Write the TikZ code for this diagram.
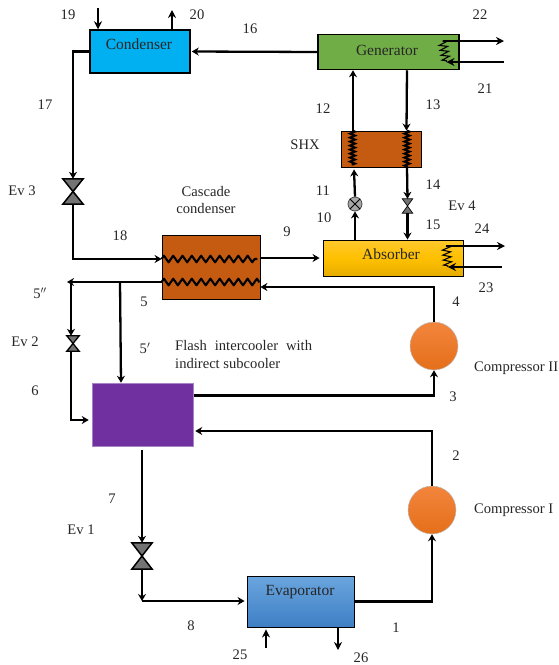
\documentclass[tikz,border=0pt]{standalone}
\usepackage{fontspec}
\setmainfont{Liberation Serif}
\usetikzlibrary{arrows.meta,decorations.pathmorphing,shapes.misc}
\definecolor{condc}{HTML}{00B0F0}
\definecolor{genc}{HTML}{70AD47}
\definecolor{shxc}{HTML}{C55A11}
\definecolor{purp}{HTML}{7030A0}
\definecolor{txtc}{HTML}{262626}
\definecolor{evt}{HTML}{6AA5DE}
\definecolor{evb}{HTML}{3E7FC4}
\definecolor{abt}{HTML}{FFC92E}
\definecolor{abm}{HTML}{FFC000}
\definecolor{abb}{HTML}{E6AD00}
\definecolor{compt}{HTML}{F2853D}
\definecolor{compm}{HTML}{F47F2B}
\definecolor{compb}{HTML}{E56F1A}
\tikzset{
  lbl/.style={text=txtc,font=\fontsize{14.6}{16}\selectfont,inner sep=0pt},
  blbl/.style={text=txtc,font=\fontsize{15.5}{16}\selectfont,inner sep=0pt},
  box/.style={draw=black,line width=1.5pt,inner sep=0pt},
  flow/.style={draw=black,line width=2.3pt,-{Stealth[length=7pt,width=8pt]}},
  thin flow/.style={draw=black,line width=1.2pt,-{Stealth[length=8pt,width=8pt]}},
  coilz/.style={draw=black,line width=2.1pt,line join=round,decorate,decoration={zigzag,segment length=9.3pt,amplitude=3.3pt}},
  coilv/.style={draw=black,line width=2pt,decorate,decoration={zigzag,segment length=4pt,amplitude=2.5pt}},
  coilh/.style={draw=black,line width=1.1pt,decorate,decoration={zigzag,segment length=5pt,amplitude=4pt}},
  valve/.style={inner sep=0pt,minimum width=#1},
  comp/.style={circle,draw=black!25,line width=.5pt,minimum size=48pt,inner sep=0pt,top color=compt,middle color=compm,bottom color=compb},
}
\begin{document}
\begin{tikzpicture}[x=1pt,y=-1pt]
\useasboundingbox (0,0) rectangle (558,665);
% boxes
\node[box,fill=condc,minimum width=100pt,minimum height=43pt] (cond) at (140,51.5) {};
\node[blbl] (condt) at (139,44) {Condenser};
\node[box,fill=genc,minimum width=141pt,minimum height=35pt] (gen) at (388.5,52) {};
\node[blbl] (gent) at (387,50) {Generator};
\node[box,fill=shxc,line width=.8pt,minimum width=80pt,minimum height=36pt] (shx) at (381,149) {};
\node[box,top color=abt,bottom color=abb,middle color=abm,line width=.9pt,minimum width=140pt,minimum height=36pt] (abs) at (393,258) {};
\node[blbl] (abst) at (391,254) {Absorber};
\node[box,fill=shxc,line width=.8pt,minimum width=98pt,minimum height=64pt] (casc) at (211,267) {};
\node[box,draw=purp!60,fill=purp,line width=.5pt,minimum width=101pt,minimum height=63pt] (flash) at (142.5,414.5) {};
\node[box,top color=evt,bottom color=evb,line width=.9pt,minimum width=107pt,minimum height=51pt] (evap) at (300.5,601.5) {};
\node[blbl] (evapt) at (300,592) {Evaporator};
\node[comp] (c2) at (434,346) {};
\node[comp] (c1) at (432,510) {};
% valves
\node[valve=20pt,minimum height=25pt] (ev3) at (73,191.5) {};
\node[valve=20pt,minimum height=26pt] (ev1) at (142,556) {};
\node[valve=12pt,minimum height=15pt] (ev2) at (73,343.5) {};
\node[valve=10pt,minimum height=14pt] (ev4) at (407.5,206) {};
\foreach \v/\w in {ev3/1.5pt,ev1/1.5pt,ev2/1.3pt,ev4/.7pt}
  \draw[draw=black,fill=black!55,line width=\w,line join=miter] (\v.north west)--(\v.north east)--(\v.south west)--(\v.south east)--cycle;
\node[circle,draw=black!70,fill=black!35,line width=.8pt,minimum size=14pt,inner sep=0pt] (pump) at (355,204) {};
\draw[black,line width=.8pt] (pump.45)--(pump.225) (pump.135)--(pump.315);
% split points
\coordinate (j5) at (120,282);
\coordinate (j5b) at (71,282);
\coordinate (t5) at (67,282);
\coordinate (ev1j) at (142,601);
% coils
\draw[coilz] ([yshift=8pt]casc.west) -- ([xshift=-3pt,yshift=8pt]casc.east);
\draw[coilz] ([yshift=-15pt]casc.west) -- ([xshift=-1pt,yshift=-15pt]casc.east);
\draw[coilv] ([xshift=-28.5pt]shx.north) -- ([xshift=-28.5pt,yshift=2pt]shx.south);
\draw[coilv] ([xshift=26pt]shx.north) -- ([xshift=26pt]shx.south);
\coordinate (gout) at ([xshift=54pt,yshift=11pt]gen.center);
\coordinate (gin) at ([xshift=58pt,yshift=-10pt]gen.center);
\coordinate (aout) at ([xshift=53pt,yshift=12pt]abs.center);
\coordinate (ain) at ([xshift=55pt,yshift=-9pt]abs.center);
\draw[coilh] (gout) -- (gin);
\draw[coilh] (aout) -- (ain);
% external hot/cold streams
\coordinate (s19) at (98,8);
\coordinate (s20) at (172,10);
\coordinate (s22) at (504,41);
\coordinate (s21) at (504,62);
\coordinate (s24) at (505,246);
\coordinate (s23) at (502,267);
\coordinate (s25) at (266,648);
\coordinate (s26) at (338,650);
\draw[thin flow] (s19) -- (s19 |- cond.north);
\draw[thin flow] (s20 |- cond.north) -- (s20);
\draw[thin flow] (gout) -- (s22);
\draw[thin flow] (s21) -- (gin);
\draw[thin flow] (aout) -- (s24);
\draw[thin flow] (s23) -- (ain);
\draw[thin flow] (s25) -- ([yshift=-2pt]s25 |- evap.south);
\draw[thin flow] ([yshift=-1pt]s26 |- evap.south) -- (s26);
% main flows
\draw[flow] (gen.west) -- ([xshift=1pt]cond.east);
\draw[flow] (cond.west) -- (cond.west -| ev3) -- (ev3.north);
\draw[flow] (ev3.south) |- ([yshift=8pt]casc.west);
\draw[flow] ([yshift=9pt]casc.east) -- ([xshift=-3pt]abs.west);
\draw[flow] (abs.north -| pump) -- (pump.south);
\draw[flow] (pump.north) -- ([xshift=-27pt,yshift=-2pt]shx.south);
\draw[flow] ([xshift=-28pt]shx.north) -- ([xshift=-35.5pt]gen.south);
\draw[flow] ([xshift=18.5pt]gen.south) -- ([xshift=25.5pt]shx.north);
\draw[flow] ([xshift=26pt]shx.south) -- (ev4.north);
\draw[flow] (ev4.south) -- (abs.north -| ev4);
\draw[flow] (c2.north) |- ([yshift=-20pt]casc.east);
\draw[flow] ([yshift=-15pt]casc.west) -- (t5);
\draw[flow] (j5) -- ([xshift=-21.5pt]flash.north);
\draw[flow] (j5b) -- (ev2.north -| j5b);
\draw[flow] (ev2.south -| j5b) |- ([xshift=-3pt,yshift=-5.5pt]flash.west);
\draw[flow] ([xshift=1pt,yshift=19pt]flash.east) -| (c2.south);
\draw[flow] (c1.north) |- ([xshift=2pt,yshift=-16.5pt]flash.east);
\draw[flow] ([yshift=-4pt]flash.south -| ev1) -- (ev1.north);
\draw[flow] (ev1.south) -- (ev1j);
\draw[flow] (ev1j) -- ([xshift=-2pt]ev1j -| evap.west);
\draw[flow] (evap.east) -- (evap.east -| c1) -- (c1.south);
% labels
\node[lbl] (l19) at (68,15) {19};
\node[lbl] (l20) at (197,15) {20};
\node[lbl] (l16) at (250,29) {16};
\node[lbl] (l22) at (480,15) {22};
\node[lbl] (l21) at (485,89) {21};
\node[lbl] (l17) at (45,105) {17};
\node[lbl] (lev3) at (22,191) {Ev 3};
\node[lbl] (lcc1) at (206,192) {Cascade};
\node[lbl] (lcc2) at (206,209) {condenser};
\node[lbl] (l18) at (120,236) {18};
\node[lbl] (l9) at (287,232) {9};
\node[lbl] (l12) at (323,109) {12};
\node[lbl] (l13) at (433,105) {13};
\node[lbl] (lshx) at (305,145) {SHX};
\node[lbl] (l11) at (323,191) {11};
\node[lbl] (l10) at (324,218) {10};
\node[lbl] (l14) at (433,185) {14};
\node[lbl] (l15) at (433,225) {15};
\node[lbl] (lev4) at (462,206) {Ev 4};
\node[lbl] (l24) at (482,229) {24};
\node[lbl] (l23) at (486,288) {23};
\node[lbl] (l5pp) at (40,293) {5$''$};
\node[lbl] (l5) at (144,302) {5};
\node[lbl] (l4) at (456,302) {4};
\node[lbl] (lev2) at (25,342) {Ev 2};
\node[lbl] (l5p) at (145,348) {5$'$};
\node[lbl,anchor=west] (lf1) at (175,345) {Flash\hspace{.55em}intercooler\hspace{.55em}with};
\node[lbl,anchor=west] (lf2) at (175,363) {indirect subcooler};
\node[lbl] (l6) at (35,391) {6};
\node[lbl,anchor=west] (lc2) at (474,368) {Compressor II};
\node[lbl] (l3) at (453,397) {3};
\node[lbl] (l2) at (456,456) {2};
\node[lbl,anchor=west] (lc1) at (474,510) {Compressor I};
\node[lbl] (l7) at (112,499) {7};
\node[lbl] (lev1) at (81,530) {Ev 1};
\node[lbl] (l8) at (191,626) {8};
\node[lbl] (l1) at (396,628) {1};
\node[lbl] (l25) at (240,655) {25};
\node[lbl] (l26) at (361,658) {26};
\end{tikzpicture}
\end{document}
